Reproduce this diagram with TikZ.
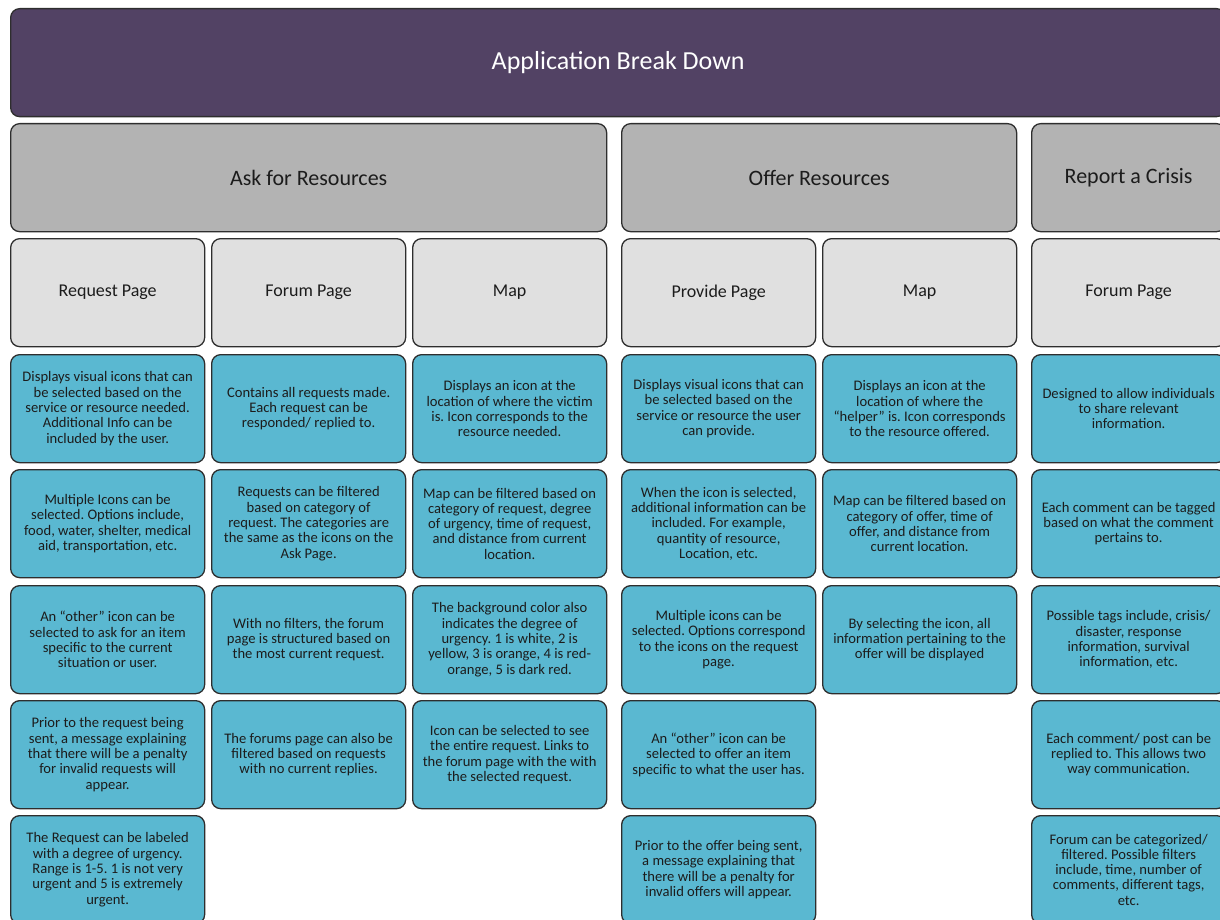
\documentclass[tikz,border=0pt]{standalone}
\usepackage{fontspec}
\setmainfont{Carlito}
\frenchspacing
\definecolor{boxline}{HTML}{2E2E2E}
\definecolor{ink}{HTML}{1C1C1C}
\definecolor{bannerfill}{HTML}{524264}
\definecolor{sectionfill}{HTML}{B3B3B3}
\definecolor{pagefill}{HTML}{E0E0E0}
\definecolor{notefill}{HTML}{5AB8D1}
\begin{document}
\begin{tikzpicture}[x=1pt,y=-1pt,
  box/.style={draw=boxline, line width=1.3pt, rounded corners=9pt, anchor=north west,
    align=center, inner sep=0pt, text=ink, minimum height=108pt},
  banner/.style={box, fill=bannerfill, text=white, minimum width=1215pt,
    font=\fontsize{26}{30}\selectfont},
  section/.style={box, fill=sectionfill, font=\fontsize{22}{26}\selectfont},
  pagebox/.style={box, fill=pagefill, minimum width=194pt, font=\fontsize{18}{22}\selectfont},
  note/.style={box, fill=notefill, minimum width=194pt, font=\fontsize{14.6}{15.3}\selectfont}]
\useasboundingbox (0,0) rectangle (1220,920);
\clip (0,0) rectangle (1220,920);

% title banner
\node[banner] (title) at (10,8) {Application Break Down};

% sections
\node[section, minimum width=596pt] (ask) at (10,123) {Ask for Resources};
\node[section, minimum width=395pt] (offer) at (621,123) {Offer Resources};
\node[section, minimum width=194pt] (report) at (1031,123) {Report a Crisis};

% pages
\node[pagebox] (request) at (10,238) {Request Page};
\node[pagebox] (forum) at (211,238) {Forum Page};
\node[pagebox] (askmap) at (412,238) {Map};
\node[pagebox] (provide) at (621,238) {Provide Page};
\node[pagebox] (offermap) at (822,238) {Map};
\node[pagebox] (crisisforum) at (1031,238) {Forum Page};

% request page notes
\node[note] (a1) at (10,354) {Displays visual icons that can\\be selected based on the\\service or resource needed.\\Additional Info can be\\included by the user.};
\node[note] (a2) at (10,469) {Multiple Icons can be\\selected. Options include,\\food, water, shelter, medical\\aid, transportation, etc.};
\node[note] (a3) at (10,585) {An “other” icon can be\\selected to ask for an item\\specific to the current\\situation or user.};
\node[note] (a4) at (10,700) {Prior to the request being\\sent, a message explaining\\that there will be a penalty\\for invalid requests will\\appear.};
\node[note] (a5) at (10,815) {The Request can be labeled\\with a degree of urgency.\\Range is 1-5. 1 is not very\\urgent and 5 is extremely\\urgent.};

% forum page notes
\node[note] (b1) at (211,354) {Contains all requests made.\\Each request can be\\responded/ replied to.};
\node[note] (b2) at (211,469) {Requests can be filtered\\based on category of\\request. The categories are\\the same as the icons on the\\Ask Page.};
\node[note] (b3) at (211,585) {With no filters, the forum\\page is structured based on\\the most current request.};
\node[note] (b4) at (211,700) {The forums page can also be\\filtered based on requests\\with no current replies.};

% ask map notes
\node[note] (c1) at (412,354) {Displays an icon at the\\location of where the victim\\is. Icon corresponds to the\\resource needed.};
\node[note] (c2) at (412,469) {Map can be filtered based on\\category of request, degree\\of urgency, time of request,\\and distance from current\\location.};
\node[note] (c3) at (412,585) {The background color also\\indicates the degree of\\urgency. 1 is white, 2 is\\yellow, 3 is orange, 4 is red-\\orange, 5 is dark red.};
\node[note] (c4) at (412,700) {Icon can be selected to see\\the entire request. Links to\\the forum page with the with\\the selected request.};

% provide page notes
\node[note] (d1) at (621,354) {Displays visual icons that can\\be selected based on the\\service or resource the user\\can provide.};
\node[note] (d2) at (621,469) {When the icon is selected,\\additional information can be\\included. For example,\\quantity of resource,\\Location, etc.};
\node[note] (d3) at (621,585) {Multiple icons can be\\selected. Options correspond\\to the icons on the request\\page.};
\node[note] (d4) at (621,700) {An “other” icon can be\\selected to offer an item\\specific to what the user has.};
\node[note] (d5) at (621,815) {Prior to the offer being sent,\\a message explaining that\\there will be a penalty for\\invalid offers will appear.};

% offer map notes
\node[note] (e1) at (822,354) {Displays an icon at the\\location of where the\\“helper” is. Icon corresponds\\to the resource offered.};
\node[note] (e2) at (822,469) {Map can be filtered based on\\category of offer, time of\\offer, and distance from\\current location.};
\node[note] (e3) at (822,585) {By selecting the icon, all\\information pertaining to the\\offer will be displayed};

% crisis forum notes
\node[note] (f1) at (1031,354) {Designed to allow individuals\\to share relevant\\information.};
\node[note] (f2) at (1031,469) {Each comment can be tagged\\based on what the comment\\pertains to.};
\node[note] (f3) at (1031,585) {Possible tags include, crisis/\\disaster, response\\information, survival\\information, etc.};
\node[note] (f4) at (1031,700) {Each comment/ post can be\\replied to. This allows two\\way communication.};
\node[note] (f5) at (1031,815) {Forum can be categorized/\\filtered. Possible filters\\include, time, number of\\comments, different tags,\\etc.};
\end{tikzpicture}
\end{document}
